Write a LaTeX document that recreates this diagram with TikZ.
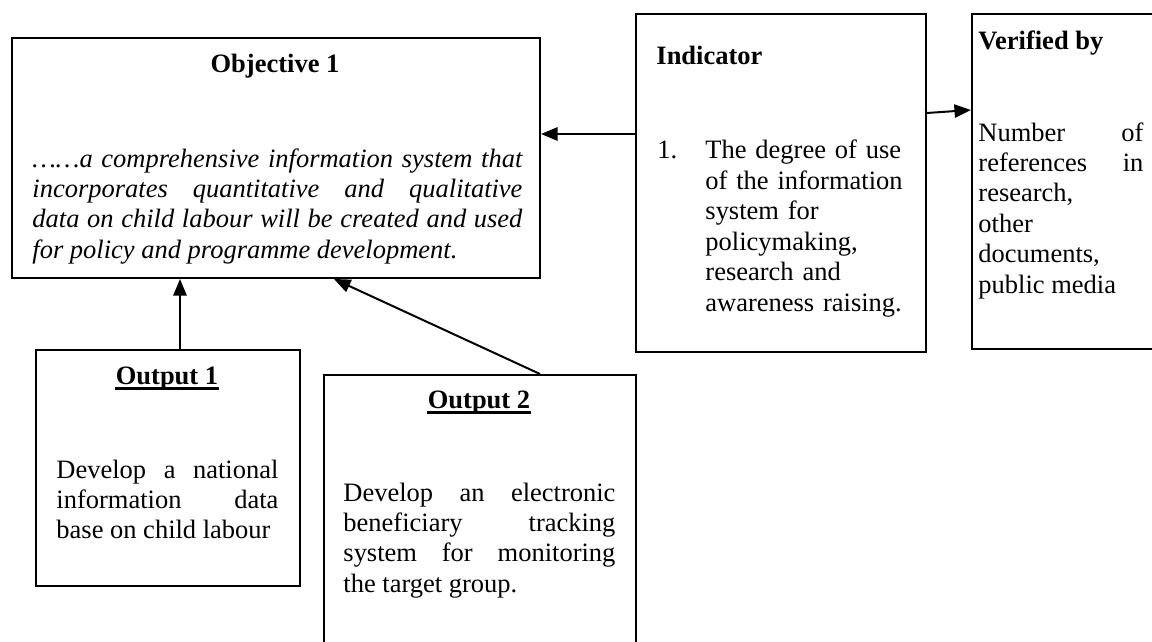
\documentclass[tikz,border=0pt]{standalone}
\usepackage{fontspec}
\setmainfont{Liberation Serif}
\usepackage{tikz}
\usetikzlibrary{calc,arrows.meta}

\newdimen\px
\px=0.453pt
\newcommand{\bodysize}{\fontsize{12}{13.8}\selectfont}

\begin{document}
\begin{tikzpicture}[x=0.453pt, y=-0.453pt, font=\bodysize,
	box/.style={draw, line width=0.9pt, inner sep=0pt, anchor=north west},
	head/.style={font=\bodysize\bfseries, inner sep=0pt},
	body/.style={inner sep=0pt, align=justify, anchor=base west},
	uline/.style={line width=1.1pt},
	arr/.style={line width=0.9pt, -{Triangle[length=7.5pt, width=6pt]}}]

	%page
	\useasboundingbox (0,0) rectangle (1152,642);
	\clip (0,0) rectangle (1152,642);

	%boxes
	\node[box, minimum width=528\px, minimum height=240\px] (objBox) at (11,37) {};
	\node[box, minimum width=264\px, minimum height=236\px] (outOneBox) at (35,349) {};
	\node[box, minimum width=312\px, minimum height=290\px] (outTwoBox) at (323,374) {};
	\node[box, minimum width=290\px, minimum height=338\px] (indBox) at (635,13) {};
	\node[box, minimum width=200\px, minimum height=335\px] (verBox) at (971,13) {};

	% objective
	\node[head, anchor=base] (objHead) at (275,73) {Objective 1};
	\node[body, font=\bodysize\itshape, text width=490\px] (objText) at (32,167)
		{……a \hfill comprehensive \hfill information \hfill system \hfill that\\
		incorporates \hfill quantitative \hfill and \hfill qualitative\\
		data \hfill on \hfill child \hfill labour \hfill will \hfill be \hfill created \hfill and \hfill used\\
		for policy and programme development.};

	% output 1
	\node[head, anchor=base] (outOneHead) at (167,384) {Output 1};
	\draw[uline] ([yshift=-2pt]outOneHead.base west) -- ([yshift=-2pt]outOneHead.base east);
	\node[body, text width=222\px] (outOneText) at (56,478)
		{Develop \hfill a \hfill national\\
		information \hfill data\\
		base on child labour};

	% output 2
	\node[head, anchor=base] (outTwoHead) at (479,408) {Output 2};
	\draw[uline] ([yshift=-2pt]outTwoHead.base west) -- ([yshift=-2pt]outTwoHead.base east);
	\node[body, text width=272\px] (outTwoText) at (343,501)
		{Develop \hfill an \hfill electronic\\
		beneficiary \hfill tracking\\
		system \hfill for \hfill monitoring\\
		the target group.};

	% indicator
	\node[head, anchor=base west] (indHead) at (656,65) {Indicator};
	\node[body] (indNum) at (657,159) {1.};
	\node[body, align=left, text width=205\px] (indText) at (705,159)
		{The degree of use\\ of the information\\ system for\\ policymaking,\\ research and\\ awareness raising.};

	% verified by
	\node[head, anchor=base west] (verHead) at (978,50) {Verified by};
	\node[body, text width=165\px] (verText) at (978,141)
		{Number \hfill of\\
		references \hfill in\\
		research,\\ other\\ documents,\\ public media};

	%arrows
	\draw[arr] ($(indBox.west)+(0,-49)$) -- ($(objBox.east)+(0,-24)$);
	\draw[arr] ($(indBox.east)+(0,-70)$) -- ($(verBox.west)+(0,-71.5)$);
	\draw[arr] ($(outOneBox.north)+(12,0)$) -- ($(objBox.south)+(-96,0)$);
	\draw[arr] ($(outTwoBox.north)+(60,0)$) -- ($(objBox.south)+(58,0)$);

\end{tikzpicture}
\end{document}
